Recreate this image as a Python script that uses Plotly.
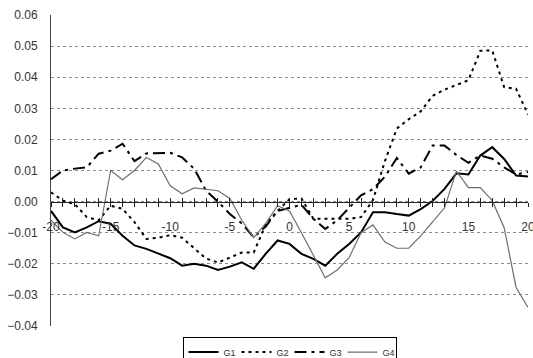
import plotly.graph_objects as go

# Event-window offsets (days) and the four group series
days = list(range(-20, 21))

g1 = [-0.003, -0.0083, -0.0099, -0.0083, -0.0063, -0.0071, -0.011, -0.0141, -0.0152, -0.0166,
      -0.0182, -0.0206, -0.020, -0.0206, -0.022, -0.0209, -0.0195, -0.0216, -0.0168, -0.0125,
      -0.0136, -0.0168, -0.0184, -0.0206, -0.0168, -0.0136, -0.0099, -0.0034, -0.0034, -0.004,
      -0.0045, -0.0024, 0.0002, 0.0041, 0.0091, 0.0087, 0.0148, 0.0175, 0.0137, 0.0084, 0.0081]

g2 = [0.003, 0.0003, -0.0008, -0.005, -0.006, -0.0013, -0.0023, -0.0066, -0.012, -0.0116,
      -0.0108, -0.0116, -0.015, -0.0183, -0.0196, -0.018, -0.0164, -0.0164, -0.0074, -0.003,
      0.0008, 0.001, -0.0055, -0.0055, -0.0055, -0.0055, -0.005, 0.0005, 0.013, 0.0235,
      0.0265, 0.029, 0.034, 0.036, 0.0375, 0.039, 0.0485, 0.0486, 0.0368, 0.0363, 0.028]

g3 = [0.0072, 0.010, 0.0106, 0.011, 0.0154, 0.0164, 0.0186, 0.013, 0.0155, 0.0155,
      0.0157, 0.0142, 0.0106, 0.0035, 0.0, -0.004, -0.007, -0.0115, -0.008, -0.003,
      -0.002, -0.001, -0.0055, -0.0088, -0.006, -0.002, 0.002, 0.004, 0.008, 0.014,
      0.009, 0.011, 0.018, 0.018, 0.015, 0.0125, 0.0148, 0.0138, 0.011, 0.0087, 0.0095]

g4 = [-0.006, -0.0099, -0.012, -0.0099, -0.011, 0.010, 0.007, 0.010, 0.0142, 0.0121,
      0.0051, 0.0025, 0.0044, 0.004, 0.0035, 0.001, -0.006, -0.0116, -0.007, -0.0013,
      -0.003, -0.010, -0.017, -0.0245, -0.022, -0.018, -0.010, -0.0075, -0.013, -0.015,
      -0.015, -0.011, -0.0065, -0.002, 0.0098, 0.0045, 0.0045, 0.0003, -0.0084, -0.0276, -0.034]

x_labels = [-20, -15, -10, -5, 0, 5, 10, 15, 20]
y_ticks = [-0.04, -0.03, -0.02, -0.01, 0.0, 0.01, 0.02, 0.03, 0.04, 0.05, 0.06]

font_family = "Arial, Liberation Sans, sans-serif"
label_color = "#333333"

fig = go.Figure()
fig.add_trace(go.Scatter(x=days, y=g1, name="G1", mode="lines",
                         line=dict(color="black", width=2)))
fig.add_trace(go.Scatter(x=days, y=g2, name="G2", mode="lines",
                         line=dict(color="black", width=2, dash="3px,4px")))
fig.add_trace(go.Scatter(x=days, y=g3, name="G3", mode="lines",
                         line=dict(color="black", width=2, dash="12px,5px,3px,5px")))
fig.add_trace(go.Scatter(x=days, y=g4, name="G4", mode="lines", xaxis="x2",
                         line=dict(color="#6f6f6f", width=1.2)))

fig.update_layout(
    width=533, height=358,
    margin=dict(l=51, r=5, t=15, b=32, autoexpand=False),
    paper_bgcolor="white", plot_bgcolor="white",
    font=dict(family=font_family, size=11, color=label_color),
    xaxis=dict(
        range=[-20, 20], anchor="free", position=0.4,
        showline=True, linecolor="#222222", linewidth=1,
        showgrid=False, zeroline=False, automargin=False,
        tickmode="array", tickvals=x_labels, ticktext=[str(v) for v in x_labels],
        ticks="outside", ticklen=4, tickcolor="#222222", tickwidth=1,
        minor=dict(dtick=1, tick0=0, ticks="outside", ticklen=4,
                   tickcolor="#222222", tickwidth=1, showgrid=False),
        ticklabelstandoff=10, ticklabeloverflow="allow",
        tickfont=dict(size=12, color=label_color),
    ),
    xaxis2=dict(
        range=[-20, 20], overlaying="x", matches="x", anchor="free", position=0.4,
        showline=False, showgrid=False, zeroline=False,
        tickmode="linear", tick0=0, dtick=1,
        ticks="inside", ticklen=4, tickcolor="#222222", tickwidth=1,
        showticklabels=False,
    ),
    yaxis=dict(
        range=[-0.04, 0.06], anchor="x", automargin=False,
        showline=True, linecolor="#444444", linewidth=1,
        showgrid=True, gridcolor="#8a8a8a", griddash="dot", gridwidth=1,
        zeroline=False,
        tickmode="array", tickvals=y_ticks, tickformat=".2f",
        ticks="", ticklabelstandoff=10,
        tickfont=dict(size=12, color=label_color),
    ),
    legend=dict(
        orientation="h", x=0.5, xanchor="center", y=-0.034, yanchor="top",
        bordercolor="black", borderwidth=1, bgcolor="white",
        font=dict(size=9, color=label_color), itemwidth=30,
        entrywidth=8, entrywidthmode="pixels",
        tracegroupgap=0,
    ),
)

fig.write_html("out.html")
